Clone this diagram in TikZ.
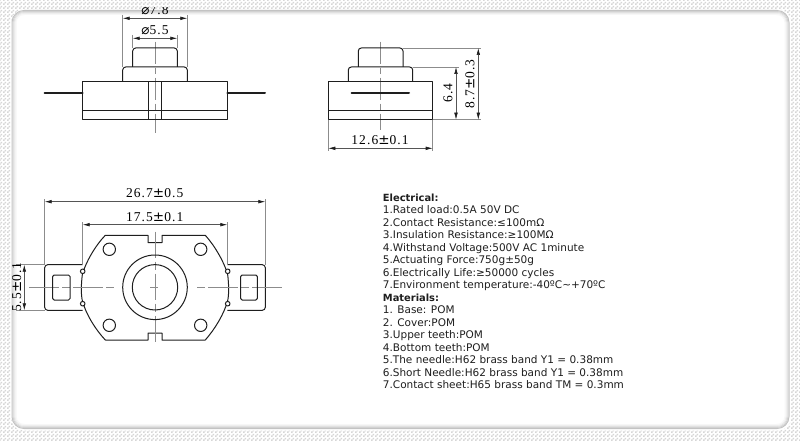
\documentclass[tikz,border=0pt]{standalone}
\usepackage{fontspec}
\setmainfont{DejaVu Sans}
\newfontfamily\dimfont[LetterSpace=8]{Liberation Serif}
\newfontfamily\symfont{DejaVu Sans}
\usetikzlibrary{arrows.meta,patterns}
\pgfdeclarepatternformonly{dither}{\pgfpointorigin}{\pgfqpoint{4pt}{4pt}}{\pgfqpoint{4pt}{4pt}}{%
  \pgfpathrectangle{\pgfpointorigin}{\pgfqpoint{2pt}{2pt}}%
  \pgfpathrectangle{\pgfqpoint{2pt}{2pt}}{\pgfqpoint{2pt}{2pt}}%
  \pgfusepath{fill}}
\definecolor{ink}{HTML}{1E1E1E}
\definecolor{thin}{HTML}{8C8C8C}
\definecolor{dimc}{HTML}{555555}
\tikzset{
  part/.style={draw=ink,line width=1pt,line join=round},
  round part/.style={part,rounded corners=3pt},
  thick part/.style={draw=ink,line width=1.5pt},
  pin/.style={draw=ink,line width=2pt,line cap=round},
  ext/.style={draw=thin,line width=0.55pt},
  axis/.style={draw=thin,line width=0.6pt,dash pattern=on 22pt off 4pt on 6pt off 4pt},
  dimline/.style={draw=dimc,line width=0.6pt,{Latex[length=7pt,width=3.6pt,color=ink]}-{Latex[length=7pt,width=3.6pt,color=ink]}},
  dimtext/.style={inner sep=0pt,text=black,font=\fontsize{13.5}{13.5}\dimfont},
  infotext/.style={inner sep=0pt,anchor=north west,align=left,text=ink,font=\fontsize{10.5}{12.5}\selectfont},
}
\newcommand{\headline}[1]{{\fontsize{9.9}{12.5}\selectfont\bfseries #1}}
\begin{document}
\begin{tikzpicture}[x=1pt,y=-1pt]
\useasboundingbox (0,0) rectangle (800,441);
% ---- frame with soft shadow
\fill[white] (0,0) rectangle (800,441);
\fill[pattern=dither,pattern color=black!16] (0,0) rectangle (800,441);
\fill[white,rounded corners=13pt] (11,9.5) rectangle (791,430.5);
\draw[black!24,line width=1pt,rounded corners=12pt] (12,10.5) rectangle (789,428.5);
\draw[black!18,line width=1pt,rounded corners=11pt] (13,11.5) rectangle (788,427.5);
\draw[black!12,line width=1pt,rounded corners=10pt] (14,12.5) rectangle (787,426.5);
\draw[black!7,line width=1pt,rounded corners=9pt] (15,13.5) rectangle (786,425.5);
\draw[black!3,line width=1pt,rounded corners=8pt] (16,14.5) rectangle (785,424.5);

% ---- left front view
\draw[axis] (155,41.7) -- (155,132.7);
\draw[round part] (132.7,67) -- (132.7,48) -- (177.3,48) -- (177.3,67);
\draw[round part] (122.7,81.3) -- (122.7,67) -- (187.3,67) -- (187.3,81.3);
\draw[part] (82.7,81.3) rectangle (227.3,119.7);
\draw[thick part] (82.7,110.7) -- (227.3,110.7);
\draw[part] (148.3,81.3) -- (148.3,119.7) (161.7,81.3) -- (161.7,119.7);
\draw[pin] (44.7,93.3) -- (82.7,93.3);
\draw[pin] (227.3,93.3) -- (265,93.3);
\draw[ext] (122.7,15) -- (122.7,67) (187.3,15) -- (187.3,67);
\draw[ext] (132.7,35) -- (132.7,48) (177.3,35) -- (177.3,48);
\coordinate (a1) at (122.7,18.3); \coordinate (a2) at (187.3,18.3);
\coordinate (b1) at (132.7,38.3); \coordinate (b2) at (177.3,38.3);
\draw[dimline] (a1) -- (a2);
\draw[dimline] (b1) -- (b2);
\begin{scope}
\clip (100,7.5) rectangle (210,16);
\node[dimtext] (d78) at (155,10.5) {{\symfont⌀}7.8};
\end{scope}
\node[dimtext] (d55) at (155,30.5) {{\symfont⌀}5.5};

% ---- right side view
\draw[axis] (380.3,41.7) -- (380.3,130);
\draw[round part] (358.3,67) -- (358.3,48) -- (403,48) -- (403,67);
\draw[round part] (348.3,81.7) -- (348.3,67) -- (412.7,67) -- (412.7,81.7);
\draw[part] (328.3,81.7) rectangle (432.7,119.7);
\draw[thick part] (328.3,110.7) -- (432.7,110.7);
\draw[pin] (351.7,93.3) -- (409,93.3);
\draw[ext] (403,48) -- (481,48) (412.7,67) -- (459,67) (432.7,119.7) -- (481,119.7);
\draw[ext] (328.3,119.7) -- (328.3,151) (432.7,119.7) -- (432.7,151);
\coordinate (c1) at (456,67); \coordinate (c2) at (456,119.7);
\coordinate (e1) at (478.3,48); \coordinate (e2) at (478.3,119.7);
\coordinate (f1) at (328.3,148.3); \coordinate (f2) at (432.7,148.3);
\draw[dimline] (c1) -- (c2);
\draw[dimline] (e1) -- (e2);
\draw[dimline] (f1) -- (f2);
\node[dimtext,rotate=90] (d64) at (448,93) {6.4};
\node[dimtext,rotate=90] (d87) at (470,84) {8.7{\symfont±}0.3};
\node[dimtext] (d126) at (380,140) {12.6{\symfont±}0.1};

% ---- bottom plan view
\draw[part,rounded corners=3pt] (82.7,264.7) -- (44.7,264.7) -- (44.7,310.3) -- (82.7,310.3);
\draw[part,rounded corners=3pt] (227.3,264.7) -- (265.3,264.7) -- (265.3,310.3) -- (227.3,310.3);
\draw[part,fill=white] (105.3,235.3) -- (148,235.3) -- (148,242.7) -- (162,242.7) -- (162,235.3) -- (205.3,235.3)
  .. controls (215,246) and (224,262) .. (227.6,274)
  .. controls (229,285) and (229,295) .. (227.6,301)
  .. controls (224,314) and (215,329) .. (205.3,340)
  -- (162,340) -- (162,333) -- (148,333) -- (148,340) -- (105.3,340)
  .. controls (95,329) and (86,314) .. (82.4,301)
  .. controls (81,295) and (81,285) .. (82.4,274)
  .. controls (86,262) and (95,246) .. (105.3,235.3) -- cycle;
\draw[axis,dash pattern=on 26pt off 4pt on 8pt off 4pt] (155,231.7) -- (155,344);
\draw[axis,dash pattern=on 30pt off 3pt on 8pt off 3pt] (29,287.3) -- (116,287.3);
\draw[axis,dash pattern=on 30pt off 3pt on 8pt off 3pt] (281.7,287.3) -- (195,287.3);
\draw[axis,dash pattern=on 8pt off 4pt] (150,287.3) -- (160,287.3);
\foreach \hx/\hy in {109.3/249.3,200.7/249.3,109.3/325.3,200.7/325.3}
  \draw[part] (\hx,\hy) circle[radius=6.2];
\draw[part] (155,287.3) circle[radius=32.3];
\draw[part] (155,287.3) circle[radius=22.7];
\foreach \hx/\hy in {82.7/271.3,82.7/303.7,227.7/271.3,227.7/303.7}
  \draw[part,fill=white] (\hx,\hy) circle[radius=2.3];
\draw[part,rounded corners=1.5pt] (52.7,275) rectangle (70,300);
\draw[part,rounded corners=1.5pt] (240.7,275) rectangle (257.3,300);
\draw[ext] (44.7,199) -- (44.7,264.7) (265.3,199) -- (265.3,264.7);
\draw[ext] (82.7,222) -- (82.7,265) (227.3,222) -- (227.3,265);
\draw[ext] (16,264.7) -- (44.7,264.7) (16,310.3) -- (44.7,310.3);
\coordinate (g1) at (44.7,201.7); \coordinate (g2) at (265.3,201.7);
\coordinate (h1) at (82.7,224.7); \coordinate (h2) at (227.3,224.7);
\coordinate (i1) at (24.3,264.7); \coordinate (i2) at (24.3,310.3);
\draw[dimline] (g1) -- (g2);
\draw[dimline] (h1) -- (h2);
\draw[dimline] (i1) -- (i2);
\node[dimtext] (d267) at (154.7,193.3) {26.7{\symfont±}0.5};
\node[dimtext] (d175) at (154.7,216.7) {17.5{\symfont±}0.1};
\node[dimtext,rotate=90] (d55b) at (16.7,287.3) {5.5{\symfont±}0.1};

% ---- text
\node[infotext] (spec) at (382.7,193.3) {\headline{Electrical:}\\
1.Rated load:0.5A 50V DC\\
2.Contact Resistance:≤100mΩ\\
3.Insulation Resistance:≥100MΩ\\
4.Withstand Voltage:500V AC 1minute\\
5.Actuating Force:750g±50g\\
6.Electrically Life:≥50000 cycles\\
7.Environment temperature:-40ºC\textasciitilde+70ºC\\
\headline{Materials:}\\
1. Base: POM\\
2. Cover:POM\\
3.Upper teeth:POM\\
4.Bottom teeth:POM\\
5.The needle:H62 brass band Y1 = 0.38mm\\
6.Short Needle:H62 brass band Y1 = 0.38mm\\
7.Contact sheet:H65 brass band TM = 0.3mm};
\end{tikzpicture}
\end{document}
